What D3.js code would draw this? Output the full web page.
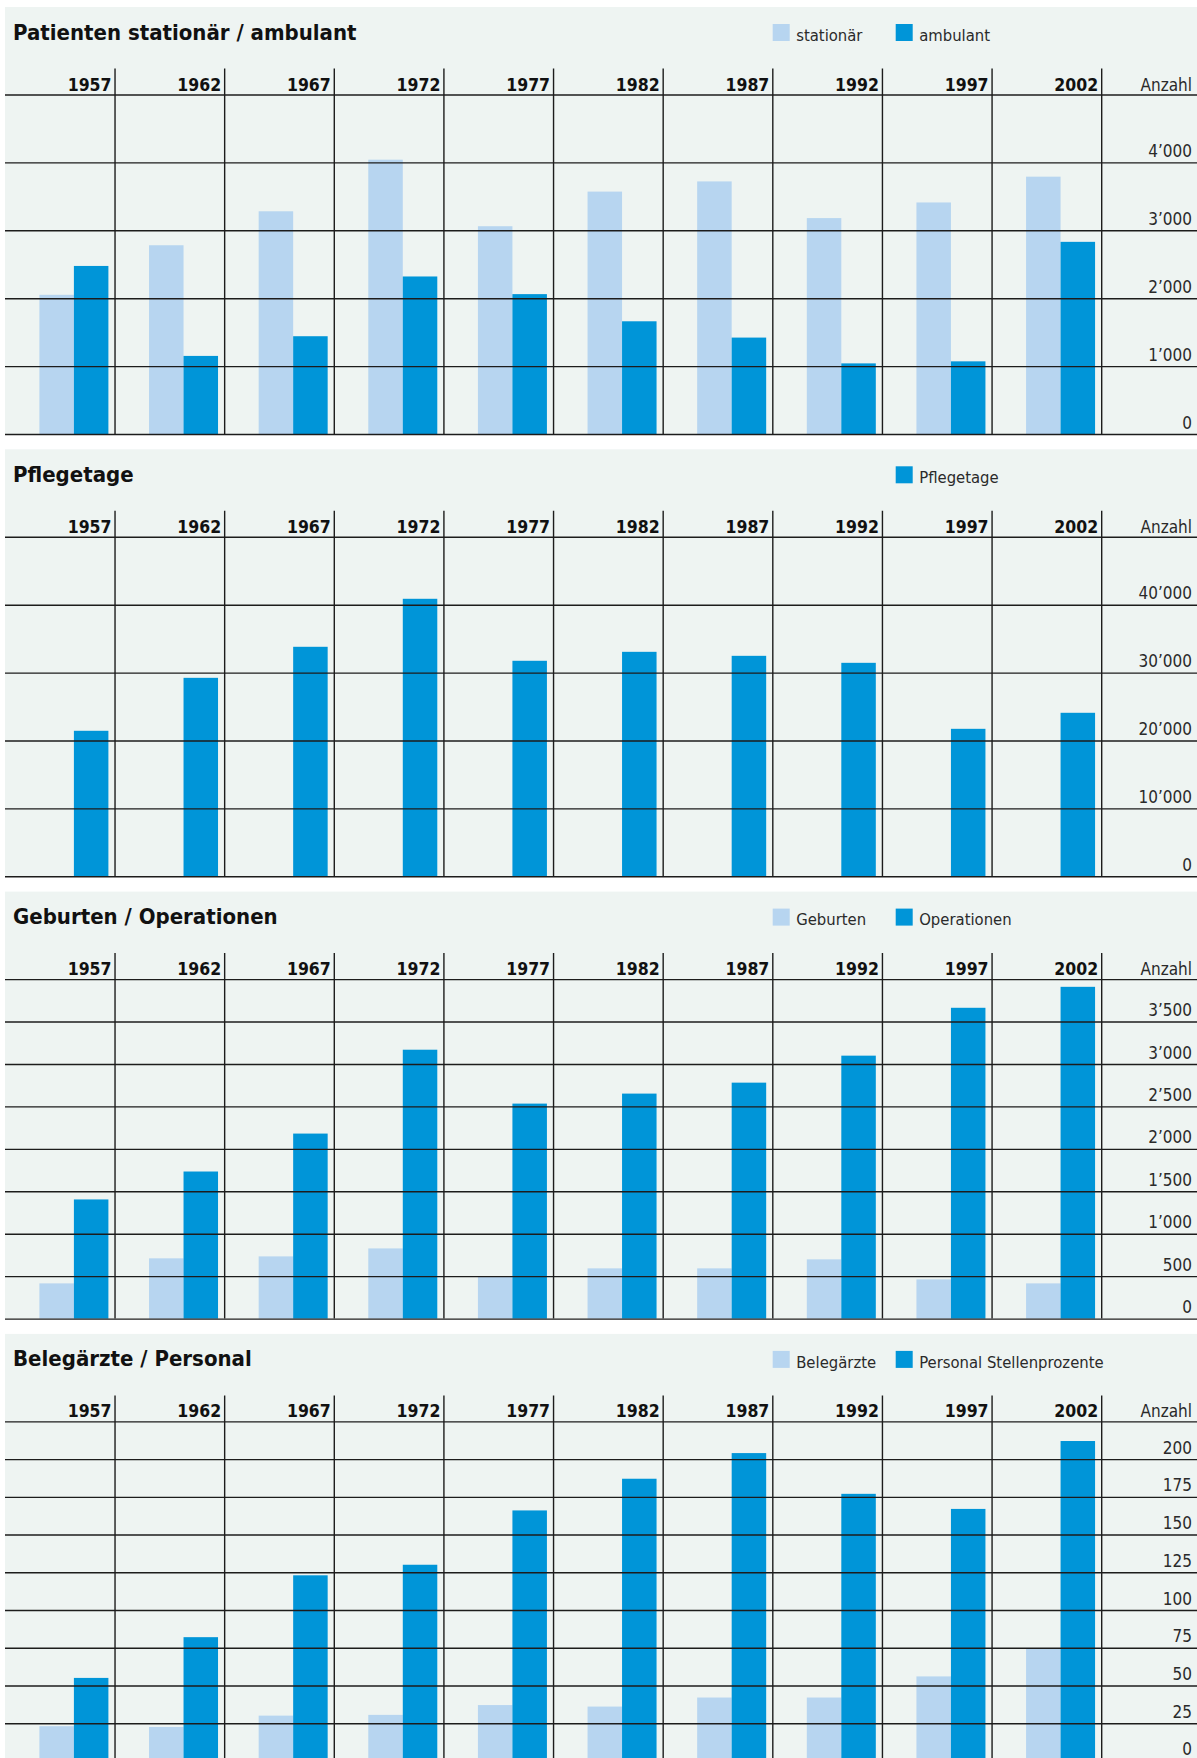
<!DOCTYPE html>
<meta charset="utf-8">
<script src="https://d3js.org/d3.v7.min.js"></script>
<style>
  body { margin: 0; background: #fff; }
  text { font-family: "Liberation Sans Narrow", "DejaVu Sans Condensed", "Roboto", sans-serif; }
</style>
<div id="chart"></div>
<script>
  // data
  const years = ["1957", "1962", "1967", "1972", "1977", "1982", "1987", "1992", "1997", "2002"];
  const stationaer = [2050, 2780, 3280, 4040, 3060, 3570, 3720, 3180, 3410, 3790];
  const ambulant = [2475, 1150, 1440, 2320, 2060, 1660, 1420, 1040, 1070, 2830];
  const pflegetage = [21430, 29230, 33800, 40870, 31740, 33060, 32470, 31440, 21720, 24080];
  const geburten = [415, 710, 733, 827, 495, 592, 592, 698, 462, 415];
  const operationen = [1404, 1733, 2180, 3168, 2533, 2651, 2780, 3098, 3662, 3909];
  const belegaerzte = [23, 22.5, 30, 30.5, 37, 36, 42, 42, 56, 74.5];
  const personal = [55, 82, 123, 130, 166, 187, 204, 177, 167, 212];

  const titles = ["Patienten stationär / ambulant", "Pflegetage", "Geburten / Operationen", "Belegärzte / Personal"];
  const maxima = [5000, 50000, 4000, 225];
  const steps = [1000, 10000, 500, 25];

  const light = "#b7d5f0", dark = "#0095d8";

  // one entry per panel, series position 0 = light bar, 1 = dark bar
  const panels = [
    { series: [{ name: "stationär", values: stationaer, pos: 0 }, { name: "ambulant", values: ambulant, pos: 1 }] },
    { series: [{ name: "Pflegetage", values: pflegetage, pos: 1 }] },
    { series: [{ name: "Geburten", values: geburten, pos: 0 }, { name: "Operationen", values: operationen, pos: 1 }] },
    { series: [{ name: "Belegärzte", values: belegaerzte, pos: 0 }, { name: "Personal Stellenprozente", values: personal, pos: 1 }] }
  ];

  const width = 1197, height = 1758;
  const left = 5, panelH = 427, panelStep = 442.3, top0 = 7;
  const headerY = 87.5;

  const svg = d3.select("#chart").append("svg")
    .attr("width", width)
    .attr("height", height);

  const fmt = d3.formatLocale({ decimal: ".", thousands: "’", grouping: [3], currency: ["", ""] }).format(",");

  const x = d3.scaleBand().domain(years).range([5.4, 1101.7]);
  const x1 = d3.scaleBand().domain([0, 1]).range([34, 103]);

  panels.forEach((p, i) => {
    const T = top0 + i * panelStep;
    const g = svg.append("g");
    const y = d3.scaleLinear().domain([0, maxima[i]]).range([T + panelH, T + headerY]);

    g.append("rect")
      .attr("x", left).attr("y", T)
      .attr("width", width - left).attr("height", panelH)
      .attr("fill", "#eef4f2");

    g.append("text")
      .attr("x", 13).attr("y", T + 32.5)
      .attr("font-size", "22px").attr("font-weight", "bold")
      .attr("fill", "#111")
      .text(titles[i]);

    // legend
    p.series.forEach(s => {
      const lx = s.pos === 0 ? 772.7 : 895.7;
      g.append("rect")
        .attr("x", lx).attr("y", T + 17)
        .attr("width", 17).attr("height", 17)
        .attr("fill", s.pos === 0 ? light : dark);
      g.append("text")
        .attr("x", lx + 23.5).attr("y", T + 33.7)
        .attr("font-size", "16.5px").attr("fill", "#2a2a2a")
        .text(s.name);
    });

    // bars
    p.series.forEach(s => {
      g.selectAll(null)
        .data(s.values)
        .join("rect")
        .attr("x", (d, j) => x(years[j]) + x1(s.pos))
        .attr("width", x1.bandwidth())
        .attr("y", d => y(d))
        .attr("height", d => y(0) - y(d))
        .attr("fill", s.pos === 0 ? light : dark);
    });

    // horizontal grid + value labels
    const ticks = d3.range(0, maxima[i] + steps[i] / 2, steps[i]);
    g.append("g")
      .attr("transform", `translate(${width},0)`)
      .call(d3.axisLeft(y).tickValues(ticks).tickSize(width - left)
        .tickFormat(d => d === maxima[i] ? "" : fmt(d)))
      .call(a => a.select(".domain").remove())
      .call(a => a.selectAll("line").attr("stroke", "#1c1c1c").attr("stroke-width", 1.4))
      .call(a => a.selectAll("text")
        .attr("x", -5).attr("dy", "-0.35em")
        .attr("font-size", "17px").attr("fill", "#2a2a2a")
        .style("font-family", null));

    // vertical year separators
    g.selectAll(null)
      .data(years)
      .join("line")
      .attr("x1", d => x(d) + x.bandwidth())
      .attr("x2", d => x(d) + x.bandwidth())
      .attr("y1", T + headerY - 26)
      .attr("y2", y(0))
      .attr("stroke", "#1c1c1c").attr("stroke-width", 1.4);

    // year labels
    g.selectAll(null)
      .data(years)
      .join("text")
      .attr("x", d => x(d) + x.bandwidth() - 3.5)
      .attr("y", T + headerY - 4)
      .attr("text-anchor", "end")
      .attr("font-size", "17.5px").attr("font-weight", "bold").attr("fill", "#111")
      .text(d => d);

    g.append("text")
      .attr("x", 1192).attr("y", T + headerY - 4)
      .attr("text-anchor", "end")
      .attr("font-size", "17px").attr("fill", "#2a2a2a")
      .text("Anzahl");
  });
</script>
